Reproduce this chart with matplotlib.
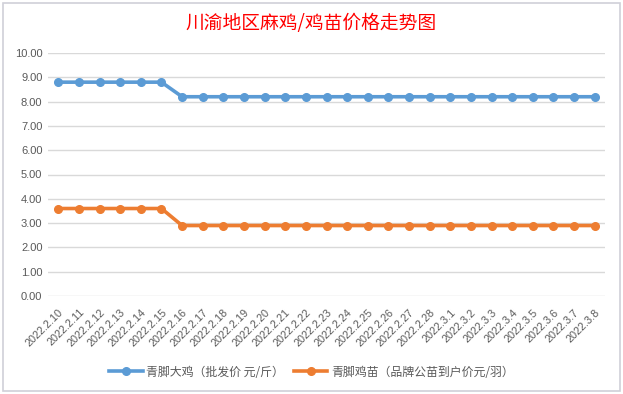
import matplotlib
matplotlib.use("Agg")
import matplotlib.pyplot as plt
from matplotlib.patches import Rectangle
from matplotlib.transforms import ScaledTranslation

plt.rcParams['font.family'] = ['Noto Sans CJK SC', 'DejaVu Sans']

dates = ["2022.2.10", "2022.2.11", "2022.2.12", "2022.2.13", "2022.2.14", "2022.2.15",
         "2022.2.16", "2022.2.17", "2022.2.18", "2022.2.19", "2022.2.20", "2022.2.21",
         "2022.2.22", "2022.2.23", "2022.2.24", "2022.2.25", "2022.2.26", "2022.2.27",
         "2022.2.28", "2022.3.1", "2022.3.2", "2022.3.3", "2022.3.4", "2022.3.5",
         "2022.3.6", "2022.3.7", "2022.3.8"]
big_chicken = [8.8] * 6 + [8.2] * 21
chick_seed = [3.6] * 6 + [2.9] * 21
series_names = ["青脚大鸡（批发价 元/斤）", "青脚鸡苗（品牌公苗到户价元/羽）"]
title = "川渝地区麻鸡/鸡苗价格走势图"
yticks = [0, 1, 2, 3, 4, 5, 6, 7, 8, 9, 10]

W, H = 623, 394
fig = plt.figure(figsize=(W / 100, H / 100), dpi=100)
fig.patch.set_facecolor("white")

# chart border
fig.add_artist(Rectangle((3 / W, 3 / H), 617 / W, 388 / H, transform=fig.transFigure,
                         fill=False, edgecolor="#D0D0D8", linewidth=1.2))

left, right = 48 / W, 605 / W
top, bottom = 1 - 53 / H, 1 - 296 / H
ax = fig.add_axes([left, bottom, right - left, top - bottom])

x = list(range(len(dates)))
ax.plot(x, big_chicken, color="#5B9BD5", lw=2.6, marker="o", markersize=5.5,
        label=series_names[0], zorder=3)
ax.plot(x, chick_seed, color="#ED7D31", lw=2.6, marker="o", markersize=5.5,
        label=series_names[1], zorder=3)

ax.set_xlim(-0.5, len(dates) - 0.5)
ax.set_ylim(0, 10)
ax.set_yticks(yticks)
ax.set_yticklabels([f"{v:.2f}" for v in yticks], fontsize=8, color="#595959",
                   family=["Liberation Sans", "DejaVu Sans"])
ax.set_xticks(x)
ax.set_xticklabels(dates, rotation=45, ha="right", rotation_mode="anchor",
                   fontsize=7.8, color="#595959", family=["Liberation Sans", "DejaVu Sans"])
offset = ScaledTranslation(5 / 100, 0, fig.dpi_scale_trans)
for lbl in ax.get_xticklabels():
    lbl.set_transform(lbl.get_transform() + offset)
ax.tick_params(axis="both", length=0, pad=4)
ax.tick_params(axis="x", pad=8)
ax.grid(axis="y", color="#D9D9D9", lw=1)
for s in ax.spines.values():
    s.set_visible(False)
ax.set_axisbelow(True)

fig.text(0.5, 1 - 23 / H, title, ha="center", va="center", fontsize=13.5,
         color="#FF0000", fontweight="medium")

fig.legend(loc="center", bbox_to_anchor=(0.5, 1 - 372 / H), ncol=2, frameon=False,
           fontsize=8.6, handlelength=2.8, columnspacing=0.8, handletextpad=0.3,
           labelcolor="#595959")

fig.savefig("out.png", dpi=100, facecolor="white")
